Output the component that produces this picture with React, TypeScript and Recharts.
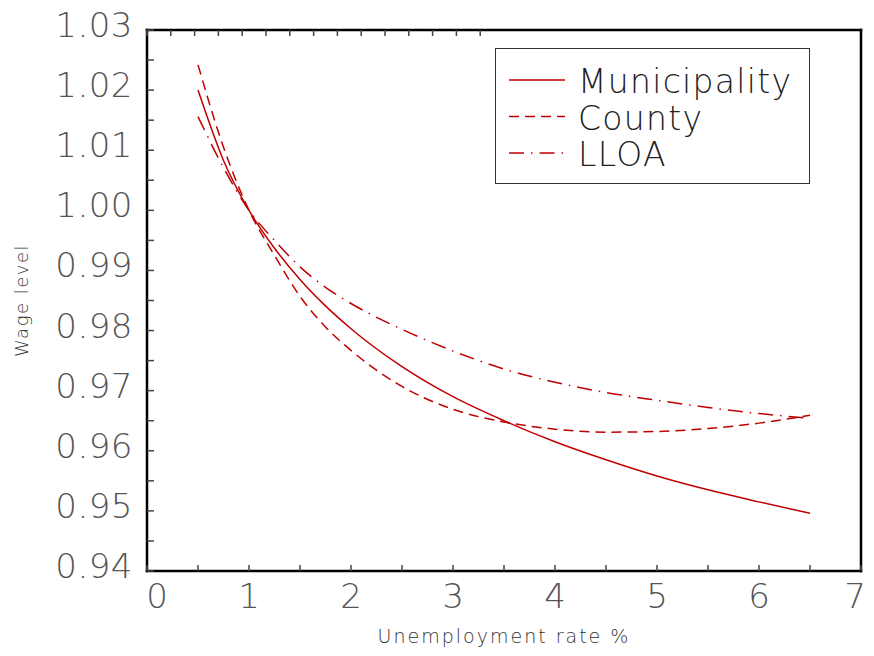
import React from 'react';
import { LineChart, Line, XAxis, YAxis } from 'recharts';

// unemployment rate (%) at which the curves were read
const unemployment = [0.5, 0.75, 1, 1.25, 1.5, 1.75, 2, 2.5, 3, 3.5, 4, 4.5, 5, 5.5, 6, 6.5];
const municipality = [1.02, 1.0083, 1.0, 0.9937, 0.9885, 0.9841, 0.9803, 0.974, 0.969, 0.965, 0.9615, 0.9585, 0.9558, 0.9535, 0.9515, 0.9496];
const county = [1.0242, 1.0105, 1.0, 0.9925, 0.9857, 0.9806, 0.9767, 0.9707, 0.9669, 0.9648, 0.9636, 0.9631, 0.9632, 0.9637, 0.9646, 0.9659];
const lloa = [1.0156, 1.0071, 1.0, 0.995, 0.9906, 0.9872, 0.9845, 0.9802, 0.9766, 0.9736, 0.9714, 0.9697, 0.9684, 0.9672, 0.9662, 0.9654];

const xTicks = [0, 0.5, 1, 1.5, 2, 2.5, 3, 3.5, 4, 4.5, 5, 5.5, 6, 6.5, 7];
const yTicks = [0.94, 0.945, 0.95, 0.955, 0.96, 0.965, 0.97, 0.975, 0.98, 0.985, 0.99, 0.995, 1.0, 1.005, 1.01, 1.015, 1.02, 1.025, 1.03];

const data = unemployment.map((u, i) => ({
  u,
  municipality: municipality[i],
  county: county[i],
  lloa: lloa[i],
}));

const RED = '#c00000';
const FONT = '"DejaVu Sans", sans-serif';
const TICK = '#444';
const COUNTY_DASH = '10 6';
const LLOA_DASH = '15 7 1.5 7';

const isMajorY = (v: number) => Math.round(v * 1000) % 10 === 0;

const BottomTick = (props: any) => {
  const { x, y, payload, index } = props;
  const v = payload.value;
  const major = Number.isInteger(v);
  // first and last labels are nudged inward like the original
  const shift = index === 0 ? 10 : index === xTicks.length - 1 ? -6 : 0;
  return (
    <g>
      <line x1={x} x2={x} y1={y} y2={y - 6} stroke={TICK} strokeWidth={1.5} />
      {major && (
        <text x={x + shift} y={y + 37} textAnchor="middle" fontSize={34} fontFamily={FONT} fontWeight={200} fill="#555">
          {v}
        </text>
      )}
    </g>
  );
};

const TopTick = (props: any) => {
  const { x, y } = props;
  return <line x1={x} x2={x} y1={y} y2={y + 6} stroke={TICK} strokeWidth={1.5} />;
};

const LeftTick = (props: any) => {
  const { x, y, payload } = props;
  const v = payload.value;
  return (
    <g>
      <line x1={x} x2={x + 7} y1={y} y2={y} stroke={TICK} strokeWidth={1.5} />
      {isMajorY(v) && (
        <text x={x - 14} y={y + 7} textAnchor="end" fontSize={34} letterSpacing={0.5} fontFamily={FONT} fontWeight={200} fill="#555">
          {v.toFixed(2)}
        </text>
      )}
    </g>
  );
};

const RightTick = (props: any) => {
  const { x, y, payload } = props;
  const len = isMajorY(payload.value) ? 7 : 4;
  return <line x1={x} x2={x - len} y1={y} y2={y} stroke={TICK} strokeWidth={1.5} />;
};

const axisLine = { stroke: '#000', strokeWidth: 2.5, strokeLinecap: 'square' as const };

const legendItems = [
  { name: 'Municipality', dash: undefined },
  { name: 'County', dash: COUNTY_DASH },
  { name: 'LLOA', dash: LLOA_DASH },
];

export default function App() {
  return (
    <div style={{ position: 'relative', width: 874, height: 656, background: '#fff' }}>
      <style>{`body{margin:0}`}</style>
      <LineChart width={874} height={656} data={data} margin={{ top: 0, right: 0, bottom: 0, left: 0 }}>
        <XAxis
          dataKey="u"
          type="number"
          domain={[0, 7]}
          ticks={xTicks}
          interval={0}
          height={85}
          tickSize={0}
          tickMargin={0}
          tick={<BottomTick />}
          axisLine={axisLine}
          label={({ viewBox }: any) => (
            <text
              x={viewBox.x + viewBox.width / 2}
              y={viewBox.y + 72}
              textAnchor="middle"
              fontSize={19}
              letterSpacing={2}
              fontFamily={FONT}
              fontWeight={200}
              fill="#333"
            >
              Unemployment rate %
            </text>
          )}
        />
        <XAxis
          xAxisId="top"
          orientation="top"
          type="number"
          domain={[0, 7]}
          ticks={xTicks}
          interval={0}
          height={30}
          tickSize={0}
          tickMargin={0}
          tick={<TopTick />}
          axisLine={axisLine}
        />
        <YAxis
          type="number"
          domain={[0.94, 1.03]}
          ticks={yTicks}
          interval={0}
          width={147}
          tickSize={0}
          tickMargin={0}
          tick={<LeftTick />}
          axisLine={axisLine}
          label={({ viewBox }: any) => (
            <text
              x={28}
              y={viewBox.y + viewBox.height / 2}
              transform={`rotate(-90, 28, ${viewBox.y + viewBox.height / 2})`}
              textAnchor="middle"
              fontSize={18}
              letterSpacing={1.5}
              fontFamily={FONT}
              fontWeight={200}
              fill="#333"
            >
              Wage level
            </text>
          )}
        />
        <YAxis
          yAxisId="right"
          orientation="right"
          type="number"
          domain={[0.94, 1.03]}
          ticks={yTicks}
          interval={0}
          width={13}
          tickSize={0}
          tickMargin={0}
          tick={<RightTick />}
          axisLine={axisLine}
        />
        <Line type="monotone" dataKey="municipality" stroke={RED} strokeWidth={1.5} dot={false} isAnimationActive={false} />
        <Line type="monotone" dataKey="county" stroke={RED} strokeWidth={1.5} strokeDasharray={COUNTY_DASH} dot={false} isAnimationActive={false} />
        <Line type="monotone" dataKey="lloa" stroke={RED} strokeWidth={1.5} strokeDasharray={LLOA_DASH} dot={false} isAnimationActive={false} />
      </LineChart>
      <div
        style={{
          position: 'absolute',
          left: 495,
          top: 48,
          width: 313,
          height: 134,
          border: '1px solid #333',
          background: '#fff',
        }}
      >
        <svg width={313} height={134}>
          {legendItems.map((item, i) => {
            const y = 31 + i * 36.5;
            return (
              <g key={item.name}>
                <line x1={13} x2={69} y1={y} y2={y} stroke={RED} strokeWidth={1.5} strokeDasharray={item.dash} />
                <text x={82} y={y + 13} fontSize={33} letterSpacing={1.3} fontFamily={FONT} fontWeight={200} fill="#222">
                  {item.name}
                </text>
              </g>
            );
          })}
        </svg>
      </div>
    </div>
  );
}
